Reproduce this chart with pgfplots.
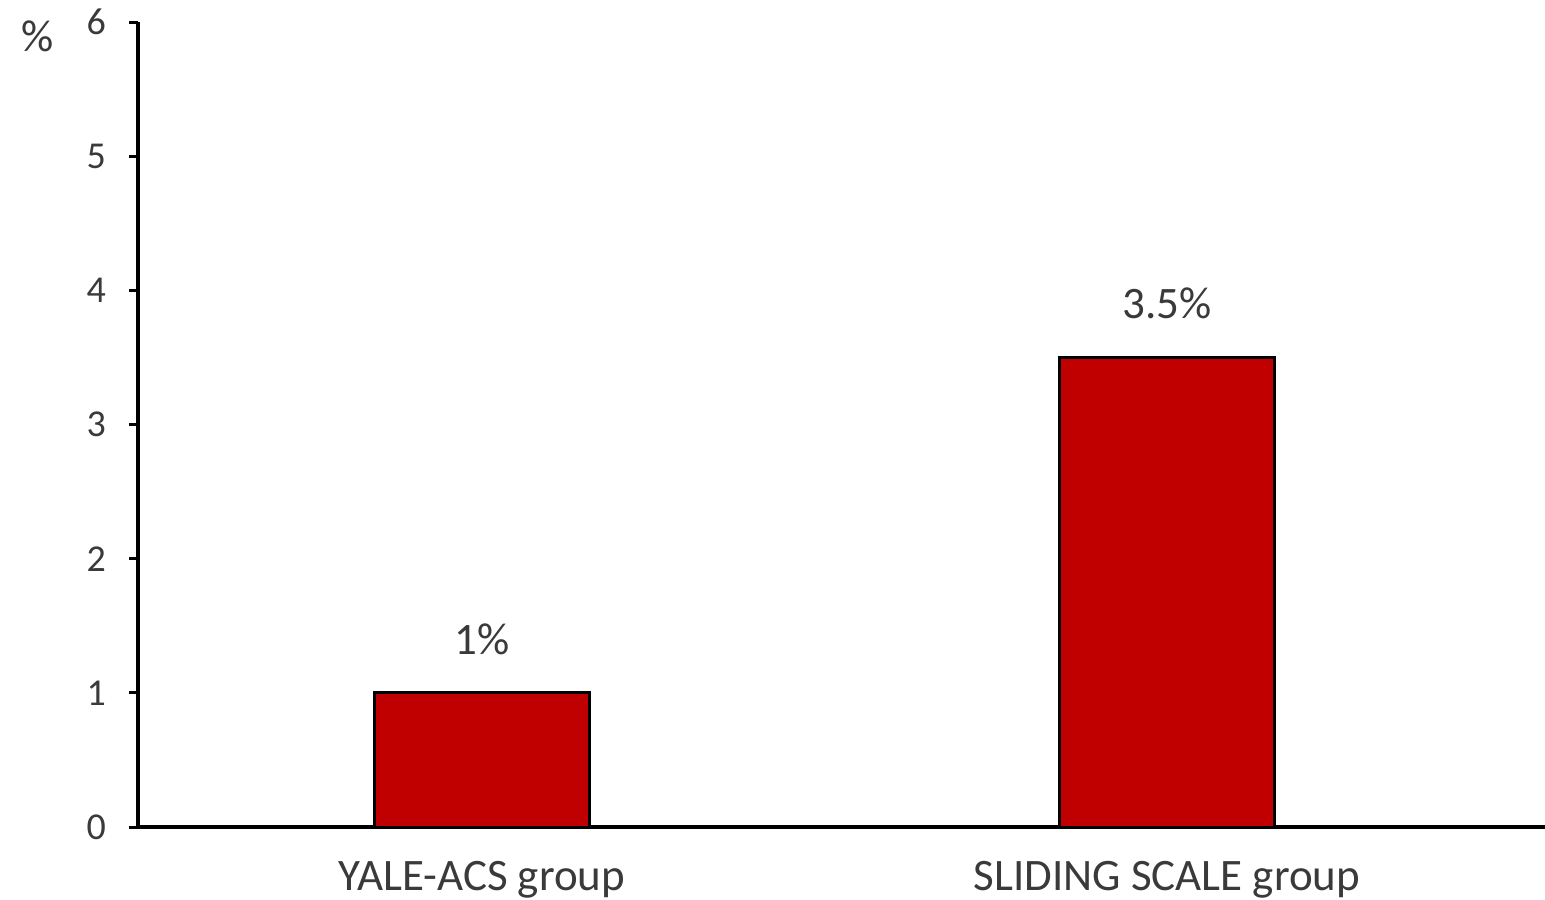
\documentclass[border=0pt]{standalone}
\usepackage{pgfplots}
\pgfplotsset{compat=1.18}
\usepackage{fontspec}
\setmainfont{Carlito}
\definecolor{barred}{HTML}{C00000}
\definecolor{txt}{HTML}{3A3A3A}
\begin{document}
\begin{tikzpicture}
\begin{axis}[
  scale only axis,
  width=703.5pt, height=402.5pt,
  at={(0,0)}, anchor=south west,
  xmin=-0.502, xmax=1.552,
  ymin=0, ymax=6,
  axis lines=left,
  axis line style={-, line width=2.2pt, black},
  xtick=data,
  xticklabels={YALE-ACS group, SLIDING SCALE group},
  xtick style={draw=none},
  ytick={0,1,2,3,4,5,6},
  ytick style={line width=1.5pt, black},
  tick align=outside,
  major tick length=4.5pt,
  /pgf/number format/assume math mode=true,
  yticklabel style={font=\fontsize{19}{22}\selectfont, text=txt, xshift=-8pt},
  xticklabel style={font=\fontsize{22.5}{26}\selectfont, text=txt, yshift=-9pt},
  clip=false,
  ybar,
  bar width=0.314,
  nodes near coords={\pgfmathprintnumber{\pgfplotspointmeta}\%},
  nodes near coords style={font=\fontsize{22.5}{26}\selectfont, text=txt, yshift=15pt},
]
\addplot[fill=barred, draw=black, line width=1.5pt] coordinates {(0,1) (1,3.5)};
\node[font=\fontsize{22.5}{26}\selectfont, text=txt] at (rel axis cs:0,1) [xshift=-50pt, yshift=-7pt] {\%};
\end{axis}
\pgfresetboundingbox
\path (-69pt,-36pt) rectangle (703.5pt,413.5pt);
\end{tikzpicture}
\end{document}
